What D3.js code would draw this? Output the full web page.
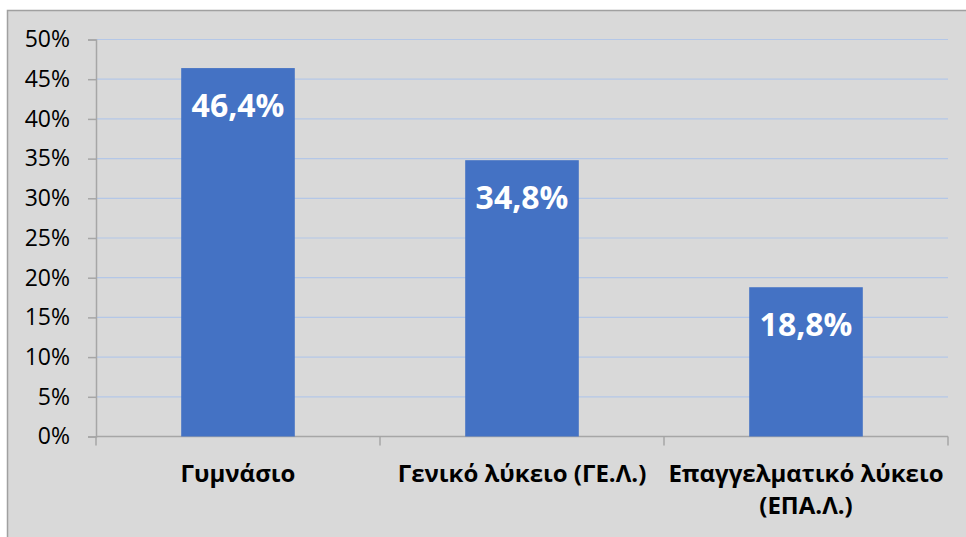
<!DOCTYPE html>
<html>
<head>
<meta charset="utf-8">
<script src="https://cdn.jsdelivr.net/npm/d3@7"></script>
<style>
  body { margin: 0; background: #fff; }
  svg { display: block; font-family: "Open Sans", sans-serif; }
</style>
</head>
<body>
<svg width="966" height="537"></svg>
<script>
// data
const categories = ["Γυμνάσιο", "Γενικό λύκειο (ΓΕ.Λ.)", "Επαγγελματικό λύκειο (ΕΠΑ.Λ.)"];
const categoryLines = [["Γυμνάσιο"], ["Γενικό λύκειο (ΓΕ.Λ.)"], ["Επαγγελματικό λύκειο", "(ΕΠΑ.Λ.)"]];
const values = [46.4, 34.8, 18.8];
const valueLabels = ["46,4%", "34,8%", "18,8%"];
const yTicks = [0, 5, 10, 15, 20, 25, 30, 35, 40, 45, 50];

const svg = d3.select("svg");

// chart frame
svg.append("rect")
  .attr("x", 7.5).attr("y", 10.5)
  .attr("width", 970).attr("height", 540)
  .attr("fill", "#d9d9d9")
  .attr("stroke", "#a0a0a0")
  .attr("stroke-width", 1.5);

const plotLeft = 96, plotRight = 948, plotTop = 39.5, plotBottom = 436.5;

const x = d3.scaleBand()
  .domain(categories)
  .range([plotLeft, plotRight])
  .paddingInner(0.6)
  .paddingOuter(0.3);

const y = d3.scaleLinear()
  .domain([0, 50])
  .range([plotBottom, plotTop]);

// gridlines
svg.append("g")
  .selectAll("line")
  .data(yTicks.filter(d => d > 0))
  .enter()
  .append("line")
  .attr("x1", plotLeft).attr("x2", plotRight)
  .attr("y1", d => y(d)).attr("y2", d => y(d))
  .attr("stroke", "#b4c7e7")
  .attr("stroke-width", 1.2);

// y axis
const yAxis = svg.append("g")
  .attr("transform", `translate(${plotLeft},0)`)
  .call(d3.axisLeft(y).tickValues(yTicks).tickFormat(d => d + "%").tickSize(8).tickPadding(18));
yAxis.select(".domain").attr("stroke", "#a6a6a6").attr("stroke-width", 1.5);
yAxis.selectAll(".tick line").attr("stroke", "#a6a6a6").attr("stroke-width", 1.5);
yAxis.selectAll(".tick text")
  .attr("font-family", "Open Sans, sans-serif")
  .attr("font-size", 23)
  .attr("fill", "#000");

// x axis with ticks on category boundaries
svg.append("line")
  .attr("x1", plotLeft).attr("x2", plotRight)
  .attr("y1", plotBottom).attr("y2", plotBottom)
  .attr("stroke", "#a6a6a6").attr("stroke-width", 1.5);
const step = x.step();
const boundaries = d3.range(categories.length + 1).map(i => x(categories[0]) - step * x.paddingInner() / 2 + i * step);
svg.append("g")
  .selectAll("line")
  .data(boundaries)
  .enter()
  .append("line")
  .attr("x1", d => d).attr("x2", d => d)
  .attr("y1", plotBottom).attr("y2", plotBottom + 9)
  .attr("stroke", "#a6a6a6").attr("stroke-width", 1.5);

// bars
svg.append("g")
  .selectAll("rect")
  .data(values)
  .enter()
  .append("rect")
  .attr("x", (d, i) => x(categories[i]))
  .attr("y", d => y(d))
  .attr("width", x.bandwidth())
  .attr("height", d => y(0) - y(d))
  .attr("fill", "#4472c4");

// value labels
svg.append("g")
  .selectAll("text")
  .data(values)
  .enter()
  .append("text")
  .attr("x", (d, i) => x(categories[i]) + x.bandwidth() / 2)
  .attr("y", d => y(d) + 49)
  .attr("text-anchor", "middle")
  .attr("font-size", 32)
  .attr("font-weight", "bold")
  .attr("fill", "#fff")
  .text((d, i) => valueLabels[i]);

// category labels
const cat = svg.append("g")
  .selectAll("text")
  .data(categoryLines)
  .enter()
  .append("text")
  .attr("x", (d, i) => x(categories[i]) + x.bandwidth() / 2)
  .attr("y", 482)
  .attr("text-anchor", "middle")
  .attr("font-size", 24)
  .attr("font-weight", "bold")
  .attr("fill", "#000");
cat.selectAll("tspan")
  .data(d => d)
  .enter()
  .append("tspan")
  .attr("x", function() { return this.parentNode.getAttribute("x"); })
  .attr("dy", (d, i) => i === 0 ? 0 : 32)
  .text(d => d);
</script>
</body>
</html>
